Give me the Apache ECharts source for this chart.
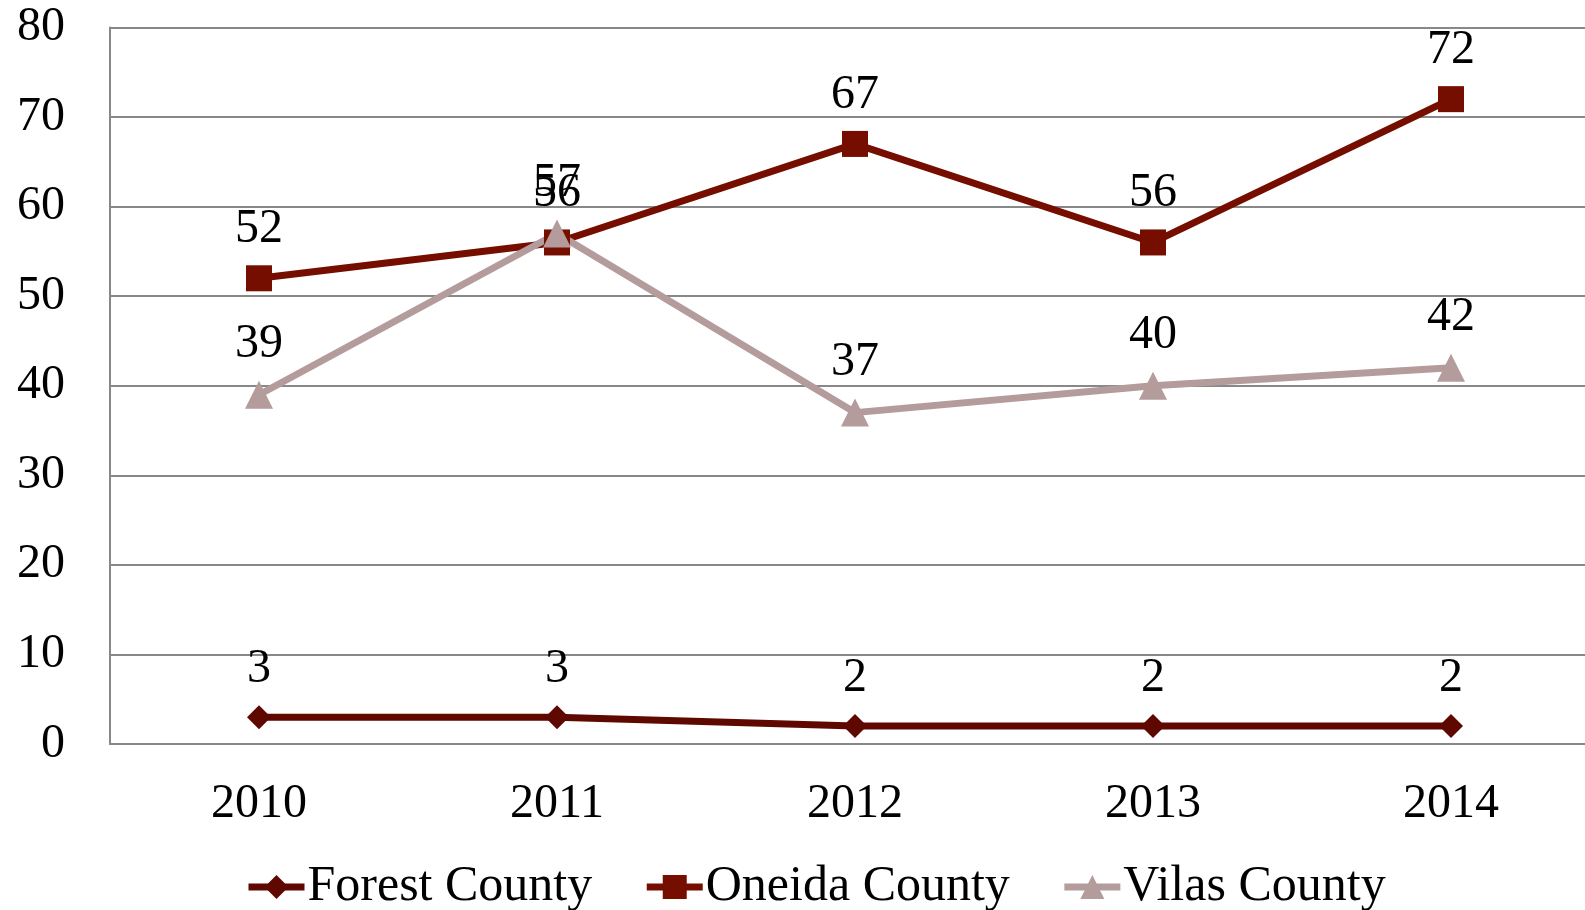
<!DOCTYPE html>
<html><head><meta charset="utf-8">
<script src="https://cdn.jsdelivr.net/npm/echarts@6/dist/echarts.min.js"></script>
<style>html,body{margin:0;padding:0;background:#fff}#c{width:1585px;height:910px}</style>
</head><body><div id="c"></div>
<script>
const categories = ['2010','2011','2012','2013','2014'];
const forest = [3,3,2,2,2];
const oneida = [52,56,67,56,72];
const vilas = [39,57,37,40,42];
const yTicks = {min:0, max:80, interval:10};

const FONT = 'Liberation Serif';
const FS = 48;
const chart = echarts.init(document.getElementById('c'));
function mk(name, data, color, symbol, size){
  return {
    name, type:'line', data, color,
    symbol, symbolSize:size,
    lineStyle:{width:7,color},
    itemStyle:{color},
    label:{show:true,position:'top',distance:12,color:'#000',fontFamily:FONT,fontSize:FS},
    emphasis:{disabled:true}, animation:false
  };
}
chart.setOption({
  animation:false,
  grid:{left:110,width:1490,top:27.5,bottom:166,outerBoundsMode:'none',containLabel:false},
  legend:{
    bottom:-7, left:240,
    itemWidth:56,itemHeight:30,itemGap:51,
    lineStyle:{width:7},
    textStyle:{fontFamily:FONT,fontSize:50,color:'#000',padding:[0,0,0,-2]},
    data:['Forest County','Oneida County','Vilas County']
  },
  xAxis:{
    type:'category',data:categories,boundaryGap:true,
    axisLine:{lineStyle:{color:'#888',width:2}},
    axisTick:{show:false},
    axisLabel:{fontFamily:FONT,fontSize:FS,color:'#000',margin:36}
  },
  yAxis:{
    type:'value',min:yTicks.min,max:yTicks.max,interval:yTicks.interval,
    axisLine:{show:true,lineStyle:{color:'#888',width:2}},
    axisTick:{show:false},
    splitLine:{lineStyle:{color:'#888',width:2}},
    axisLabel:{fontFamily:FONT,fontSize:FS,color:'#000',margin:45}
  },
  series:[
    mk('Forest County',forest,'#5e0800','diamond',24),
    mk('Oneida County',oneida,'#760e00','rect',26),
    mk('Vilas County',vilas,'#b39c9b','triangle',28)
  ]
});
</script></body></html>
